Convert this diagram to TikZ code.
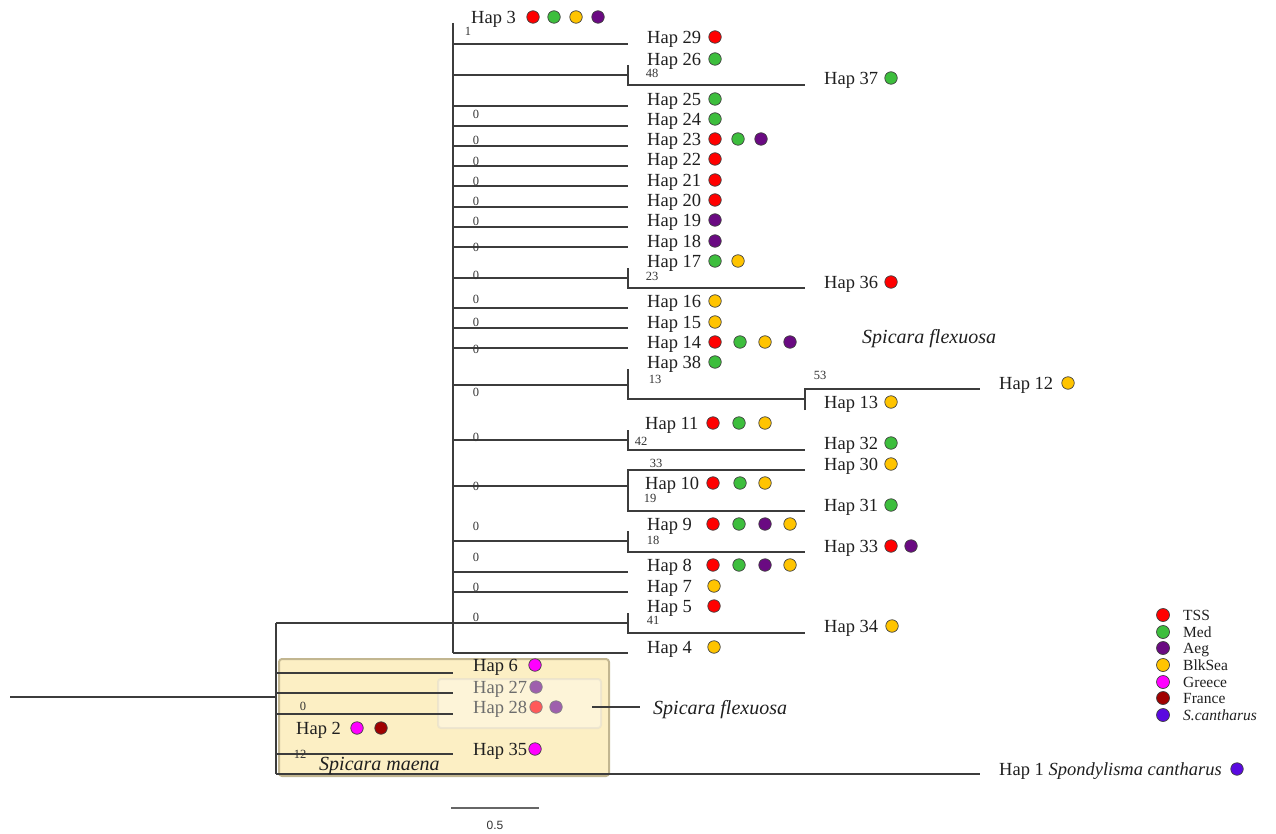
\documentclass[tikz,border=0pt]{standalone}
\usepackage{fontspec}
\setmainfont{Liberation Serif}
\setsansfont{Liberation Sans}
\definecolor{tss}{HTML}{FF0000}
\definecolor{med}{HTML}{3DBE3D}
\definecolor{aeg}{HTML}{6A0A82}
\definecolor{blk}{HTML}{FFC400}
\definecolor{grc}{HTML}{FF00FF}
\definecolor{fra}{HTML}{A00000}
\definecolor{sca}{HTML}{5A0AE0}
\definecolor{treegray}{HTML}{3C3C3C}
\definecolor{boxfill}{HTML}{FCEFC4}
\definecolor{boxline}{HTML}{C2B690}
\tikzset{
  br/.style={draw=treegray, line width=1.5pt},
  hap/.style={inner sep=0pt, font=\fontsize{18.5}{20}\selectfont, text=black!88},
  bs/.style={inner sep=0pt, font=\fontsize{12.5}{13}\selectfont, text=black!80},
  dot/.style={circle, draw=black!75, line width=0.7pt, minimum size=12.5pt, inner sep=0pt},
  sp/.style={inner sep=0pt, font=\fontsize{20}{22}\selectfont\itshape, text=black!88},
  leg/.style={inner sep=0pt, font=\fontsize{15.5}{16}\selectfont, text=black!88},
}
\newcommand\haprow[5]{%
  \node[hap, anchor=base west] (#1) at (#2, #3+6.5) {#4};
  \foreach \cc/\xx [count=\k] in {#5} {\node[dot, fill=\cc] (#1d\k) at (\xx, #3) {};}%
}
\begin{document}
\begin{tikzpicture}[x=1pt, y=-1pt]
\useasboundingbox (0,0) rectangle (1276,834);

% ---- shaded Spicara maena box
\node[draw=boxline, line width=2pt, fill=boxfill, rounded corners=3pt,
      minimum width=330pt, minimum height=117pt, anchor=north west, inner sep=0pt]
      (maenabox) at (278,658) {};

% ---- labels and dots
\haprow{h3}{471}{17}{Hap 3}{tss/533,med/554,blk/576,aeg/598}
\haprow{h29}{647}{37}{Hap 29}{tss/715}
\haprow{h26}{647}{59}{Hap 26}{med/715}
\haprow{h37}{824}{78}{Hap 37}{med/891}
\haprow{h25}{647}{99}{Hap 25}{med/715}
\haprow{h24}{647}{119}{Hap 24}{med/715}
\haprow{h23}{647}{139}{Hap 23}{tss/715,med/738,aeg/761}
\haprow{h22}{647}{159}{Hap 22}{tss/715}
\haprow{h21}{647}{180}{Hap 21}{tss/715}
\haprow{h20}{647}{200}{Hap 20}{tss/715}
\haprow{h19}{647}{220}{Hap 19}{aeg/715}
\haprow{h18}{647}{241}{Hap 18}{aeg/715}
\haprow{h17}{647}{261}{Hap 17}{med/715,blk/738}
\haprow{h36}{824}{282}{Hap 36}{tss/891}
\haprow{h16}{647}{301}{Hap 16}{blk/715}
\haprow{h15}{647}{322}{Hap 15}{blk/715}
\haprow{h14}{647}{342}{Hap 14}{tss/715,med/740,blk/765,aeg/790}
\haprow{h38}{647}{362}{Hap 38}{med/715}
\haprow{h12}{999}{383}{Hap 12}{blk/1068}
\haprow{h13}{824}{402}{Hap 13}{blk/891}
\haprow{h11}{645}{423}{Hap 11}{tss/713,med/739,blk/765}
\haprow{h32}{824}{443}{Hap 32}{med/891}
\haprow{h30}{824}{464}{Hap 30}{blk/891}
\haprow{h10}{645}{483}{Hap 10}{tss/713,med/740,blk/765}
\haprow{h31}{824}{505}{Hap 31}{med/891}
\haprow{h9}{647}{524}{Hap 9}{tss/713,med/739,aeg/765,blk/790}
\haprow{h33}{824}{546}{Hap 33}{tss/891,aeg/911}
\haprow{h8}{647}{565}{Hap 8}{tss/713,med/739,aeg/765,blk/790}
\haprow{h7}{647}{586}{Hap 7}{blk/714}
\haprow{h5}{647}{606}{Hap 5}{tss/714}
\haprow{h34}{824}{626}{Hap 34}{blk/892}
\haprow{h4}{647}{647}{Hap 4}{blk/714}
\haprow{h6}{473}{665}{Hap 6}{grc/535}
\haprow{h27}{473}{687}{Hap 27}{aeg/536}
\haprow{h28}{473}{707}{Hap 28}{tss/536,aeg/556}
\haprow{h2}{296}{728}{Hap 2}{grc/357,fra/381}
\haprow{h35}{473}{749}{Hap 35}{grc/535}
\node[hap, anchor=base west] (h1) at (999,775.5) {Hap 1 \textit{Spondylisma cantharus}};
\node[dot, fill=sca] (h1d1) at (1237,769) {};

% ---- inner (faded) box
\node[draw=boxline!45, line width=2pt, fill=white, fill opacity=0.35, draw opacity=0.6,
      rounded corners=3pt, minimum width=163pt, minimum height=49pt,
      anchor=north west, inner sep=0pt] (flexbox) at (437,678) {};

% ---- tree
\coordinate (root) at (10,697);
\coordinate (R) at (276,697);
\coordinate (Rtop) at (276,623);
\coordinate (Rbot) at (276,774);
\coordinate (Utop) at (453,23);
\coordinate (Ubot) at (453,653);
\draw[br] (root) -- (R);
\draw[br] (Rtop) -- (Rbot);
\draw[br] (Utop) -- (Ubot);
\foreach \nm/\yy in {e29/44, e48/75, e25/106, e24/126, e23/146, e22/166, e21/186,
                     e20/207, e19/227, e18/247, e23c/278, e16/308, e15/328, e14/348,
                     e13c/385, e42/440, e33c/486, e18c/541, e8/572, e7/592, e4/653}
  {\coordinate (\nm) at (628,\yy); \draw[br] (Utop |- \nm) -- (\nm);}
\coordinate (e41) at (628,623);
\draw[br] (Rtop) -- (e41);
% Spicara maena branches
\foreach \nm/\yy in {m6/673, m27/693, m28/714, m35/754}
  {\coordinate (\nm) at (453,\yy); \draw[br] (R |- \nm) -- (\nm);}
\coordinate (t1) at (980,774);
\draw[br] (Rbot) -- (t1);
% subclades
\coordinate (t37) at (805,85);   \draw[br] (628,65) -- (e48) -- (628,85) -- (t37);
\coordinate (t36) at (805,288);  \draw[br] (628,268) -- (628,288) -- (t36);
\coordinate (c53) at (805,399);  \draw[br] (628,369) -- (628,399) -- (c53);
\coordinate (t12) at (980,389);  \draw[br] (c53 |- 0,410) -- (805,389) -- (t12);
\coordinate (t32) at (805,450);  \draw[br] (628,430) -- (628,450) -- (t32);
\coordinate (t30) at (805,470);  \coordinate (t31) at (805,511);
\draw[br] (t30) -- (628,470) -- (628,511) -- (t31);
\coordinate (t33) at (805,552);  \draw[br] (628,531) -- (628,552) -- (t33);
\coordinate (t34) at (805,633);  \draw[br] (628,613) -- (628,633) -- (t34);

% ---- support values
\node[bs] (s1) at (468,31) {1};
\node[bs] (s48) at (652,73) {48};
\foreach \yy [count=\i] in {114,140,161,181,201,221,247,275,299,322,349,392,437,486,526,557,587,617}
  {\node[bs] (z\i) at (476,\yy) {0};}
\node[bs] (s23) at (652,276) {23};
\node[bs] (s13) at (655,379) {13};
\node[bs] (s53) at (820,375) {53};
\node[bs] (s42) at (641,441) {42};
\node[bs] (s33) at (656,463) {33};
\node[bs] (s19) at (650,498) {19};
\node[bs] (s18) at (653,540) {18};
\node[bs] (s41) at (653,620) {41};
\node[bs] (sb0) at (303,706) {0};
\node[bs] (sb12) at (300,754) {12};

% ---- species labels
\node[sp, anchor=base west] (spf1) at (862,343) {Spicara flexuosa};
\node[sp, anchor=base west] (spm) at (319,770) {Spicara maena};
\node[sp, anchor=base west] (spf2) at (653,714) {Spicara flexuosa};
\coordinate (fb) at (592,707);
\coordinate (fe) at (640,707);
\draw[br, line width=1.3pt] (fb) -- (fe);

% ---- scale bar
\coordinate (sbL) at (451,808); \coordinate (sbR) at (539,808);
\draw[draw=black!60, line width=1.5pt] (sbL) -- (sbR);
\node[inner sep=0pt, font=\sffamily\fontsize{12}{13}\selectfont, text=black!80] (sbt) at (495,825) {0.5};

% ---- legend
\foreach \cc/\tt/\yy [count=\i] in {tss/TSS/615, med/Med/632, aeg/Aeg/648, blk/BlkSea/665,
                                 grc/Greece/682, fra/France/698, sca/\textit{S.cantharus}/715}
  {\node[dot, fill=\cc, minimum size=13pt] (L\i) at (1163,\yy) {};
   \node[leg, anchor=base west] (Lt\i) at (1183,\yy+5.3) {\tt};}
\end{tikzpicture}
\end{document}
